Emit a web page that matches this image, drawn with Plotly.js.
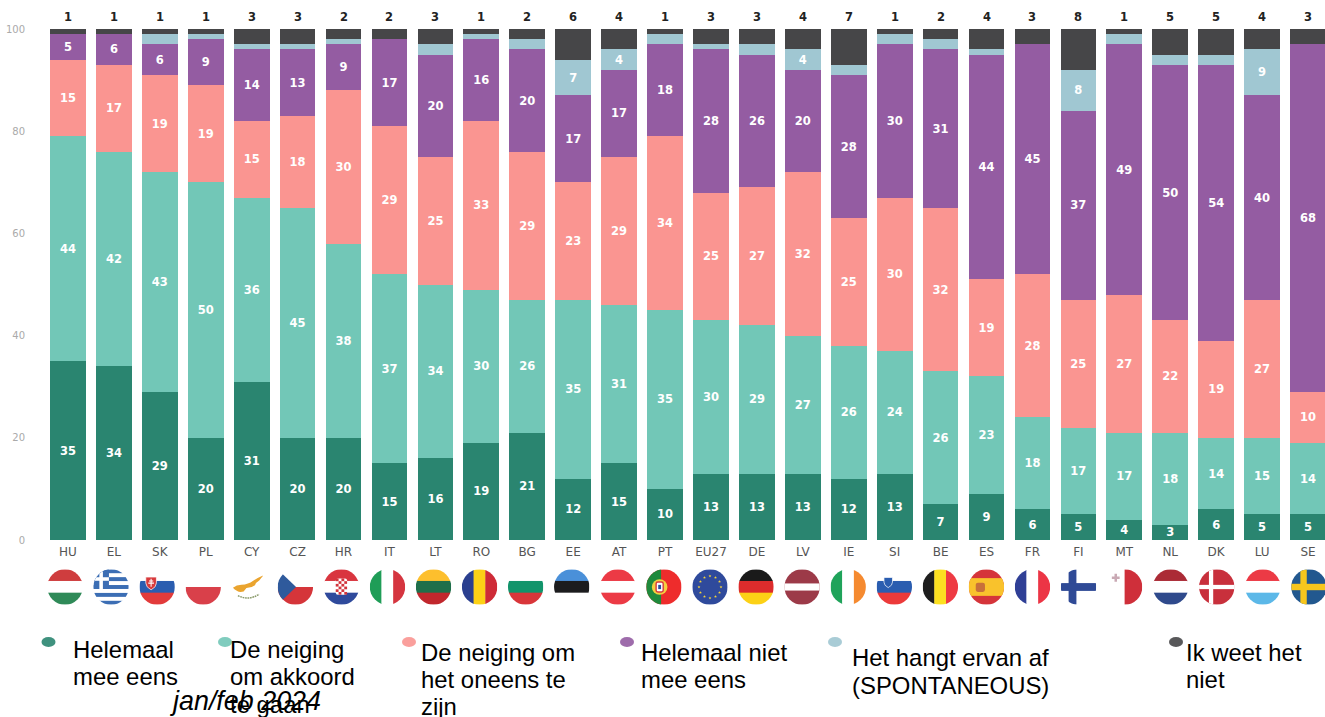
<!DOCTYPE html>
<html><head><meta charset="utf-8">
<script src="https://cdn.plot.ly/plotly-3.0.1.min.js"></script>
<style>html,body{margin:0;padding:0;background:#fff;overflow:hidden}</style>
</head><body><div id="chart" style="width:1325px;height:717px"></div>
<script>
const categories=["HU","EL","SK","PL","CY","CZ","HR","IT","LT","RO","BG","EE","AT","PT","EU27","DE","LV","IE","SI","BE","ES","FR","FI","MT","NL","DK","LU","SE"];
const helemaalEens=[35,34,29,20,31,20,20,15,16,19,21,12,15,10,13,13,13,12,13,7,9,6,5,4,3,6,5,5];
const neigingAkkoord=[44,42,43,50,36,45,38,37,34,30,26,35,31,35,30,29,27,26,24,26,23,18,17,17,18,14,15,14];
const neigingOneens=[15,17,19,19,15,18,30,29,25,33,29,23,29,34,25,27,32,25,30,32,19,28,25,27,22,19,27,10];
const helemaalNiet=[5,6,6,9,14,13,9,17,20,16,20,17,17,18,28,26,20,28,30,31,44,45,37,49,50,54,40,68];
const hangtErvanAf=[0,0,2,1,1,1,1,0,2,1,2,7,4,2,1,2,4,2,2,2,1,0,8,2,2,2,9,0];
const weetNiet=[1,1,1,1,3,3,2,2,3,1,2,6,4,1,3,3,4,7,1,2,4,3,8,1,5,5,4,3];
const seriesNames=["Helemaal mee eens","De neiging om akkoord te gaan","De neiging om het oneens te zijn","Helemaal niet mee eens","Het hangt ervan af (SPONTANEOUS)","Ik weet het niet"];
const seriesColors=["#2a8570","#72c7b7","#fa9591","#945ca2","#a0c7d2","#464648"];
const allSeries=[helemaalEens,neigingAkkoord,neigingOneens,helemaalNiet,hangtErvanAf,weetNiet];
const tickValues=[0,20,40,60,80,100];

const W=1280,H=511,ML=45,MT=29;
const px=x=>(x-ML)/W, py=y=>(MT+H-y)/H;

const traces=allSeries.map((vals,k)=>({
  type:"bar",name:seriesNames[k],x:categories,y:vals,
  marker:{color:seriesColors[k],line:{width:0}},
  text:vals.map(v=>(k===5||(k===4&&v<4))?"":String(v)),
  textposition:"inside",insidetextanchor:"middle",textangle:0,
  insidetextfont:{family:"DejaVu Sans",size:11.5,color:"#fff",weight:700},
  hoverinfo:"name+y",showlegend:false
}));

/* circular flags */
const h3=(a,b,c)=>`<rect width="100" height="34" fill="${a}"/><rect y="33" width="100" height="34" fill="${b}"/><rect y="66" width="100" height="34" fill="${c}"/>`;
const v3=(a,b,c)=>`<rect width="34" height="100" fill="${a}"/><rect x="33" width="34" height="100" fill="${b}"/><rect x="66" width="34" height="100" fill="${c}"/>`;
const shield=(x,y,s,c)=>`<path d="M${x-s} ${y-s}h${2*s}v${s*1.1}q0 ${s*.8} -${s} ${s*1.3}q-${s} -${s*.5} -${s} -${s*1.3}z" fill="${c}" stroke="#fff" stroke-width="2"/>`;
function euStars(){let s='<rect width="100" height="100" fill="#2f4a9c"/>';
  for(let i=0;i<12;i++){const a=i*Math.PI/6,cx=50+31*Math.cos(a),cy=50+31*Math.sin(a);let p=[];
    for(let j=0;j<10;j++){const r=j%2?1.8:4.3,b=-Math.PI/2+j*Math.PI/5;p.push((cx+r*Math.cos(b)).toFixed(1)+","+(cy+r*Math.sin(b)).toFixed(1));}
    s+=`<polygon points="${p.join(" ")}" fill="#f2d23c"/>`;}
  return s;}
function greek(){let s='';for(let i=0;i<9;i+=2)s+=`<rect y="${i*100/9}" width="100" height="${100/9}" fill="#3c6eb4"/>`;
  return s+`<rect width="44" height="55.6" fill="#3c6eb4"/><rect x="17" width="10" height="55.6" fill="#fff"/><rect y="22.5" width="44" height="10" fill="#fff"/>`;}
function checks(){let s='<rect x="34" y="26" width="32" height="46" rx="6" fill="#fff"/>';
  for(let r=0;r<6;r++)for(let c=0;c<4;c++)if((r+c)%2===0)s+=`<rect x="${34+c*8}" y="${26+r*7.6}" width="8" height="7.6" fill="#d2343c"/>`;
  return s;}
const flags={
 HU:h3("#cf3d3e","#fff","#2f8a58"),EL:greek(),
 SK:h3("#fff","#2a5db0","#e23b3b")+shield(33,37,15,"#d83a3c")+'<path d="M33 27v22M27 33h12M25 39h16" stroke="#fff" stroke-width="3"/>',
 PL:'<rect y="50" width="100" height="50" fill="#d9404a"/>',
 CY:'<path d="M4 52q10 -8 24 -8q20 -2 32 -11q12 -8 30 -16l-12 15q-10 6 -12 13q-10 8 -24 8l-8 10q-12 3 -18 -2q-8 -3 -12 -9z" fill="#eaa42f"/><path d="M18 74q30 16 60 -4" fill="none" stroke="#8a9a6a" stroke-width="4" stroke-dasharray="5 2"/>',
 CZ:'<rect y="50" width="100" height="50" fill="#d5353a"/><path d="M0 0L52 50L0 100z" fill="#2f5a9c"/>',
 HR:h3("#d9353f","#fff","#2f4a9c")+checks(),IT:v3("#1f9d57","#fff","#d5353f"),
 LT:h3("#fdbf2d","#1f6f4a","#c1272d"),RO:v3("#2a3f8f","#fcd116","#ce2b37"),
 BG:h3("#fff","#12946b","#d9363a"),EE:h3("#4a90d9","#1c1c1e","#fff"),AT:h3("#ec3a45","#fff","#ec3a45"),
 PT:'<rect width="100" height="100" fill="#ee2c2c"/><rect width="42" height="100" fill="#1f8a3c"/><circle cx="38" cy="50" r="22" fill="#f4d03f"/><rect x="28" y="36" width="20" height="28" rx="5" fill="#fff" stroke="#d83a3c" stroke-width="4"/><rect x="34" y="44" width="8" height="12" fill="#2a4f9c"/>',
 EU27:euStars(),DE:h3("#1a1a1a","#dd2c2c","#fcd116"),
 LV:'<rect width="100" height="100" fill="#9c3a48"/><rect y="40" width="100" height="20" fill="#fff"/>',
 IE:v3("#1fa35a","#fff","#f58a30"),
 SI:h3("#fff","#2a5db0","#ec3a3a")+shield(33,35,12,"#2a5db0"),
 BE:v3("#1e1e1e","#fce021","#ee3a43"),
 ES:'<rect width="100" height="100" fill="#d5343a"/><rect y="25" width="100" height="50" fill="#f9c22c"/><rect x="20" y="38" width="26" height="26" rx="6" fill="#c8703a"/>',
 FR:v3("#2f3f96","#fff","#ec3545"),
 FI:'<rect x="22" width="22" height="100" fill="#2f4a96"/><rect y="39" width="100" height="22" fill="#2f4a96"/>',
 MT:'<rect x="50" width="50" height="100" fill="#cf2f3a"/><path d="M14 24h22M25 13v22" stroke="#c9a9b4" stroke-width="7"/>',
 NL:h3("#ab2b36","#fff","#2f4a8c"),
 DK:'<rect width="100" height="100" fill="#c8303c"/><rect x="28" width="12" height="100" fill="#fff"/><rect y="44" width="100" height="12" fill="#fff"/>',
 LU:h3("#ec3a45","#fff","#5cb8e8"),
 SE:'<rect width="100" height="100" fill="#22588f"/><rect x="26" width="18" height="100" fill="#f7c61d"/><rect y="41" width="100" height="18" fill="#f7c61d"/>'
};
const flagUri=c=>"data:image/svg+xml;charset=utf-8,"+encodeURIComponent(
 `<svg xmlns="http://www.w3.org/2000/svg" width="100" height="100" viewBox="0 0 100 100"><defs><clipPath id="c"><circle cx="50" cy="50" r="50"/></clipPath></defs><g clip-path="url(#c)">${flags[c]}</g></svg>`);
const images=categories.map((c,i)=>({
  source:flagUri(c),xref:"paper",yref:"paper",
  x:px(65+46.07*i),y:py(587),sizex:35.5/W,sizey:35.5/H,
  xanchor:"center",yanchor:"middle",sizing:"contain",layer:"above"
}));

/* hand-placed legend */
const legendLines=[
 {x:73,lines:[["Helemaal",649],["mee eens",676]],dot:[48.5,642]},
 {x:229.5,lines:[["De neiging",649],["om akkoord",676],["te gaan",704]],dot:[225,642]},
 {x:421,lines:[["De neiging om",652],["het oneens te",679],["zijn",706]],dot:[409,642]},
 {x:641,lines:[["Helemaal niet",652],["mee eens",679]],dot:[627,642]},
 {x:852,lines:[["Het hangt ervan af",657],["(SPONTANEOUS)",685]],dot:[835,642]},
 {x:1186,lines:[["Ik weet het",652],["niet",679]],dot:[1176,642]}
];
const annotations=categories.map((c,i)=>({
  text:String(weetNiet[i]),xref:"x",yref:"y",x:c,y:100,xanchor:"center",yanchor:"bottom",yshift:3,showarrow:false,
  font:{family:"DejaVu Sans",size:11.5,color:"#222",weight:700}
}));
const shapes=[];
legendLines.forEach((l,k)=>{
  l.lines.forEach(([t,y])=>annotations.push({text:t,xref:"paper",yref:"paper",x:px(l.x-2),y:py(y),xanchor:"left",yanchor:"middle",showarrow:false,font:{family:"Liberation Sans",size:23.9,color:"#000"}}));
  shapes.push({type:"circle",xref:"paper",yref:"paper",x0:px(l.dot[0]-7),x1:px(l.dot[0]+7),y0:py(l.dot[1]-5),y1:py(l.dot[1]+5),fillcolor:seriesColors[k],opacity:0.9,line:{width:0}});
});
annotations.push({text:"jan/feb 2024",xref:"paper",yref:"paper",x:px(168),y:py(701),xanchor:"left",yanchor:"middle",showarrow:false,font:{family:"Liberation Sans",size:26.9,style:"italic",color:"#000"}});

Plotly.newPlot("chart",traces,{
  width:1325,height:717,barmode:"stack",bargap:0.223,
  uniformtext:{mode:"show",minsize:11.5},
  margin:{l:ML,r:0,t:MT,b:177,pad:0},
  paper_bgcolor:"#fff",plot_bgcolor:"#fff",showlegend:false,
  xaxis:{type:"category",range:[-0.5,27.37],showgrid:false,zeroline:false,showline:false,ticks:"outside",ticklen:1,tickcolor:"rgba(0,0,0,0)",
    tickfont:{family:"DejaVu Sans",size:12,color:"#555"},tickangle:0},
  yaxis:{range:[0,100],tickvals:tickValues,showgrid:false,zeroline:false,showline:false,ticks:"outside",ticklen:17,tickcolor:"rgba(0,0,0,0)",
    tickfont:{family:"DejaVu Sans",size:10,color:"#aaa"}},
  images,annotations,shapes
},{displayModeBar:false,responsive:false});
</script></body></html>
